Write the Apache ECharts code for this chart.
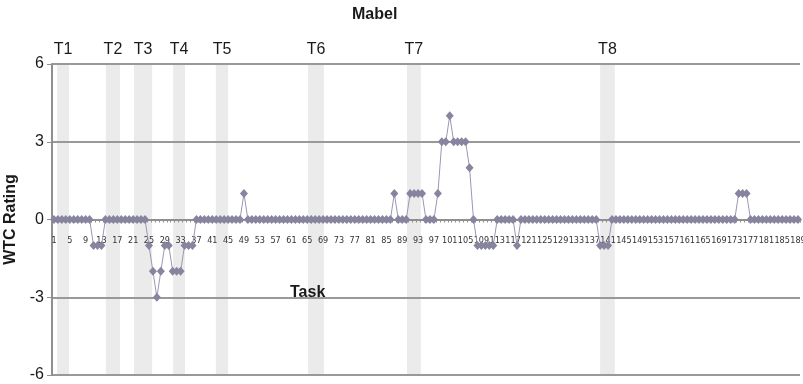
<!DOCTYPE html>
<html>
<head>
<meta charset="utf-8">
<script src="https://cdn.jsdelivr.net/npm/echarts@6/dist/echarts.min.js"></script>
<style>
  html, body { margin: 0; padding: 0; background: #fff; }
  #main { width: 803px; height: 384px; }
</style>
</head>
<body>
<div id="main"></div>
<script>
// task numbers on the x axis
var tasks = [
  '1','2','3','4','5','6','7','8','9','10','11','12','13','14','15','16','17','18','19','20',
  '21','22','23','24','25','26','27','28','29','30','31','32','33','34','35','36','37','38','39','40',
  '41','42','43','44','45','46','47','48','49','50','51','52','53','54','55','56','57','58','59','60',
  '61','62','63','64','65','66','67','68','69','70','71','72','73','74','75','76','77','78','79','80',
  '81','82','83','84','85','86','87','88','89','90','91','92','93','94','95','96','97','98','99','100',
  '101','102','103','104','105','106','107','108','109','110','111','112','113','114','115','116','117','118','119','120',
  '121','122','123','124','125','126','127','128','129','130','131','132','133','134','135','136','137','138','139','140',
  '141','142','143','144','145','146','147','148','149','150','151','152','153','154','155','156','157','158','159','160',
  '161','162','163','164','165','166','167','168','169','170','171','172','173','174','175','176','177','178','179','180',
  '181','182','183','184','185','186','187','188','189'
]

// WTC rating per task
var wtcRating = [
  0, 0, 0, 0, 0, 0, 0, 0, 0, 0,
  -1, -1, -1, 0, 0, 0, 0, 0, 0, 0,
  0, 0, 0, 0, -1, -2, -3, -2, -1, -1,
  -2, -2, -2, -1, -1, -1, 0, 0, 0, 0,
  0, 0, 0, 0, 0, 0, 0, 0, 1, 0,
  0, 0, 0, 0, 0, 0, 0, 0, 0, 0,
  0, 0, 0, 0, 0, 0, 0, 0, 0, 0,
  0, 0, 0, 0, 0, 0, 0, 0, 0, 0,
  0, 0, 0, 0, 0, 0, 1, 0, 0, 0,
  1, 1, 1, 1, 0, 0, 0, 1, 3, 3,
  4, 3, 3, 3, 3, 2, 0, -1, -1, -1,
  -1, -1, 0, 0, 0, 0, 0, -1, 0, 0,
  0, 0, 0, 0, 0, 0, 0, 0, 0, 0,
  0, 0, 0, 0, 0, 0, 0, 0, -1, -1,
  -1, 0, 0, 0, 0, 0, 0, 0, 0, 0,
  0, 0, 0, 0, 0, 0, 0, 0, 0, 0,
  0, 0, 0, 0, 0, 0, 0, 0, 0, 0,
  0, 0, 0, 1, 1, 1, 0, 0, 0, 0,
  0, 0, 0, 0, 0, 0, 0, 0, 0
]

// highlighted task bands (in task units)
var bandNames = ['T1', 'T2', 'T3', 'T4', 'T5', 'T6', 'T7', 'T8']
var bandStart = [1.8, 14.1, 21.2, 31.1, 41.9, 65.2, 90.2, 139.0]
var bandEnd = [4.8, 17.7, 25.8, 34.1, 45.0, 69.2, 93.7, 142.7]

var yTicks = { min: -6, max: 6, interval: 3 }

var bands = []
for (var i = 0; i < bandNames.length; i++) {
  bands.push([{ name: bandNames[i], xAxis: bandStart[i] }, { xAxis: bandEnd[i] }])
}

var font = "'Liberation Sans', Arial, sans-serif"
var chart = echarts.init(document.getElementById('main'))
var option = {
  animation: false,
  textStyle: { fontFamily: font },
  title: {
    text: 'Mabel',
    left: 352,
    top: 7,
    padding: 0,
    textStyle: { fontSize: 16, fontWeight: 'bold', color: '#1a1a1a', fontFamily: font }
  },
  graphic: [{
    type: 'text',
    z: 100,
    left: 290,
    top: 285,
    style: { text: 'Task', fontSize: 16, fontWeight: 'bold', fill: '#1a1a1a', fontFamily: font }
  }],
  grid: { left: 52, right: 3, top: 64, bottom: 9, outerBoundsMode: 'none', containLabel: false },
  xAxis: [
    {
      type: 'category',
      data: tasks,
      boundaryGap: true,
      z: 3,
      axisLine: { onZero: true, lineStyle: { color: '#8f8f8f', width: 2 } },
      axisTick: { show: true, interval: 0, length: 3, lineStyle: { color: '#8f8f8f', width: 1 } },
      // labels sit just under the zero line
      axisLabel: {
        interval: 3,
        margin: -139,
        fontSize: 9,
        color: '#333',
        showMinLabel: true,
        showMaxLabel: true,
        hideOverlap: false,
        fontFamily: "'Liberation Sans Narrow', 'DejaVu Sans Condensed', sans-serif"
      },
      splitLine: { show: false }
    },
    {
      type: 'value',
      show: false,
      min: 0.5,
      max: 189.5
    }
  ],
  yAxis: {
    type: 'value',
    min: yTicks.min,
    max: yTicks.max,
    interval: yTicks.interval,
    z: 3,
    name: 'WTC Rating',
    nameLocation: 'middle',
    nameGap: 31,
    nameTextStyle: { fontSize: 16, fontWeight: 'bold', color: '#1a1a1a' },
    axisLine: { show: true, lineStyle: { color: '#8f8f8f', width: 2 } },
    axisTick: { show: true, length: 5, lineStyle: { color: '#8f8f8f', width: 1 } },
    axisLabel: { fontSize: 16, color: '#1a1a1a', margin: 8 },
    splitLine: { show: true, lineStyle: { color: '#999', width: 2 } }
  },
  series: [
    {
      name: 'bands',
      type: 'line',
      xAxisIndex: 1,
      data: [],
      z: 0,
      silent: true,
      markArea: {
        silent: true,
        z: 0,
        itemStyle: { color: '#ebebeb' },
        label: {
          show: true,
          position: 'top',
          distance: 6,
          fontSize: 16,
          color: '#1a1a1a',
          fontFamily: font
        },
        data: bands
      }
    },
    {
      name: 'Mabel',
      type: 'line',
      data: wtcRating,
      z: 5,
      showAllSymbol: true,
      symbol: 'diamond',
      symbolSize: [8, 9],
      itemStyle: { color: '#86849e' },
      lineStyle: { color: '#9a98b0', width: 1 }
    }
  ]
}
chart.setOption(option)
</script>
</body>
</html>
